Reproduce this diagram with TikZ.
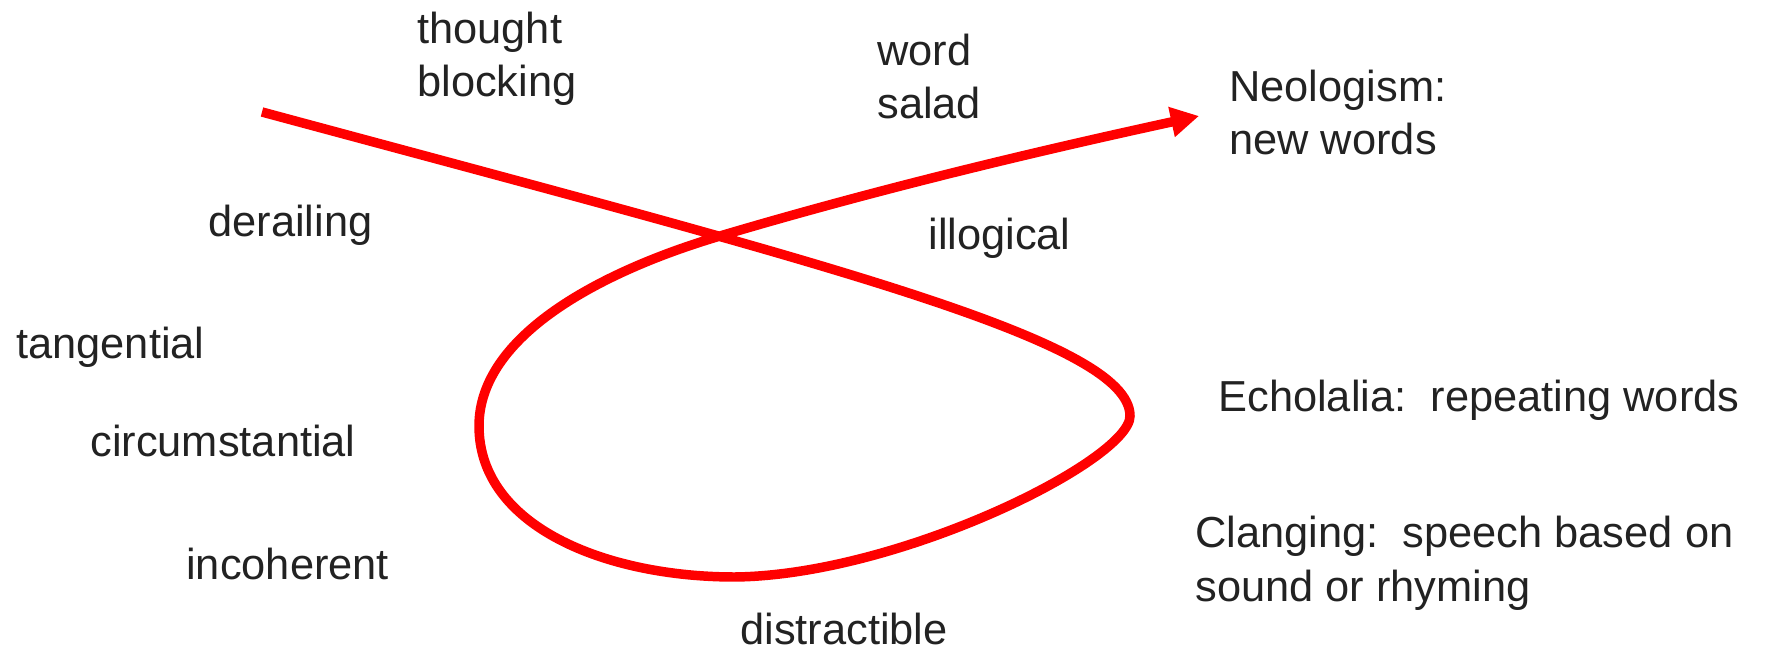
\documentclass[tikz,border=0pt]{standalone}
\usepackage{fontspec}
\setmainfont{Liberation Sans}
\definecolor{txtgray}{RGB}{34, 34, 34}
\definecolor{loopred}{RGB}{255, 0, 0}
\usetikzlibrary{arrows.meta, positioning}
\tikzset{
	term/.style={anchor=base west, inner sep=0pt, align=left, text=txtgray, font=\fontsize{24.7}{30.2}\selectfont},
	loopline/.style={draw=loopred, line width=5.4pt, -{Triangle[length=16pt, width=16.5pt]}},
}

\begin{document}
\begin{tikzpicture}[x=0.02cm, y=-0.02cm]
		\useasboundingbox (0,0) rectangle (1767,651);
		% labels round the loop (base of the last line)
		\node[term] (thought) at (417,97) {thought\\blocking};
		\node[term] (word) at (877,119) {word\\salad};
		\node[term] (neo) at (1229,155) {Neologism:\\new words};
		\node[term] (derail) at (208,237) {derailing};
		\node[term] (illog) at (928,250) {illogical};
		\node[term] (tang) at (16,359) {tangential};
		\node[term] (echo) at (1218,412) {Echolalia:\ \ repeating words};
		\node[term] (circ) at (90,457) {circumstantial};
		\node[term] (clang) at (1195,601) {Clanging:\ \ speech based on\\sound or rhyming};
		\node[term] (incoh) at (186,579) {incoherent};
		\node[term] (distr) at (740,644) {distractible};
		% the loop
		\coordinate (start) at (262,112);
		\coordinate (right) at (1130,416);
		\coordinate (bottom) at (735,577);
		\coordinate (left) at (479,426);
		\coordinate (cross) at (720,236);
		\coordinate (tip) at (1199,116);
		\draw[loopline] (start) .. controls (822,263) and (1130,340) .. (right)
			.. controls (1130,460) and (900,575) .. (bottom)
			.. controls (605,577) and (479,526) .. (left)
			.. controls (479,336) and (600,271.6) .. (cross)
			.. controls (880,188.5) and (1038,151) .. (tip);
	\end{tikzpicture}
\end{document}
